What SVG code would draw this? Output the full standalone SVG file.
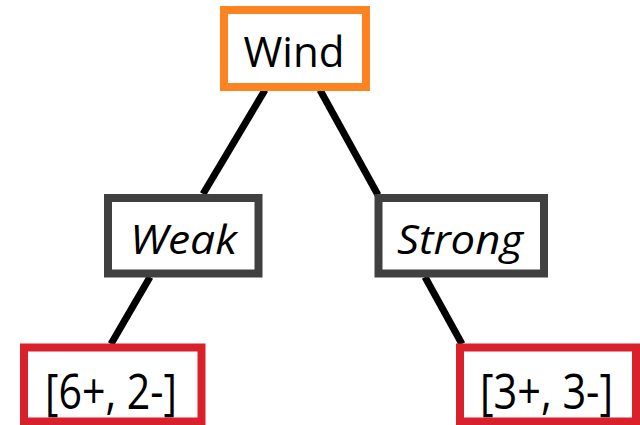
<svg xmlns="http://www.w3.org/2000/svg" width="640" height="425" viewBox="0 0 640 425">
<style>
.box{fill:#fff;stroke-width:8}
.root{stroke:#fd8320}
.mid{stroke:#404040}
.leaf{stroke:#d9202b}
.edge{stroke:#000;stroke-width:7;fill:none}
text{font-family:"Open Sans","Noto Sans",sans-serif;fill:#000;text-anchor:middle}
.it{font-style:italic}
</style>
<rect width="640" height="425" fill="#fff"/>
<g id="connectors">
<line class="edge" x1="265" y1="90" x2="203" y2="194"/>
<line class="edge" x1="320" y1="90" x2="378" y2="195"/>
<line class="edge" x1="150" y1="277" x2="111" y2="344"/>
<line class="edge" x1="425" y1="277" x2="462" y2="344"/>
</g>
<g id="wind">
<rect class="box root" x="224" y="10" width="142" height="77"/>
<text x="294" y="67" font-size="42" textLength="101" lengthAdjust="spacingAndGlyphs">Wind</text>
</g>
<g id="weak">
<rect class="box mid" x="108" y="198" width="150.5" height="75.5"/>
<text class="it" x="183.5" y="254" font-size="40" textLength="107" lengthAdjust="spacingAndGlyphs">Weak</text>
</g>
<g id="strong">
<rect class="box mid" x="378.5" y="198" width="165.5" height="75.5"/>
<text class="it" x="460" y="254" font-size="40" textLength="126" lengthAdjust="spacingAndGlyphs">Strong</text>
</g>
<g id="leaf-left">
<rect class="box leaf" x="24" y="347.5" width="177.5" height="74"/>
<text x="111" y="409" font-size="50" textLength="132" lengthAdjust="spacingAndGlyphs">[6+, 2-]</text>
</g>
<g id="leaf-right">
<rect class="box leaf" x="460" y="347.5" width="176" height="74"/>
<text x="546.5" y="409" font-size="50" textLength="133" lengthAdjust="spacingAndGlyphs">[3+, 3-]</text>
</g>
</svg>
